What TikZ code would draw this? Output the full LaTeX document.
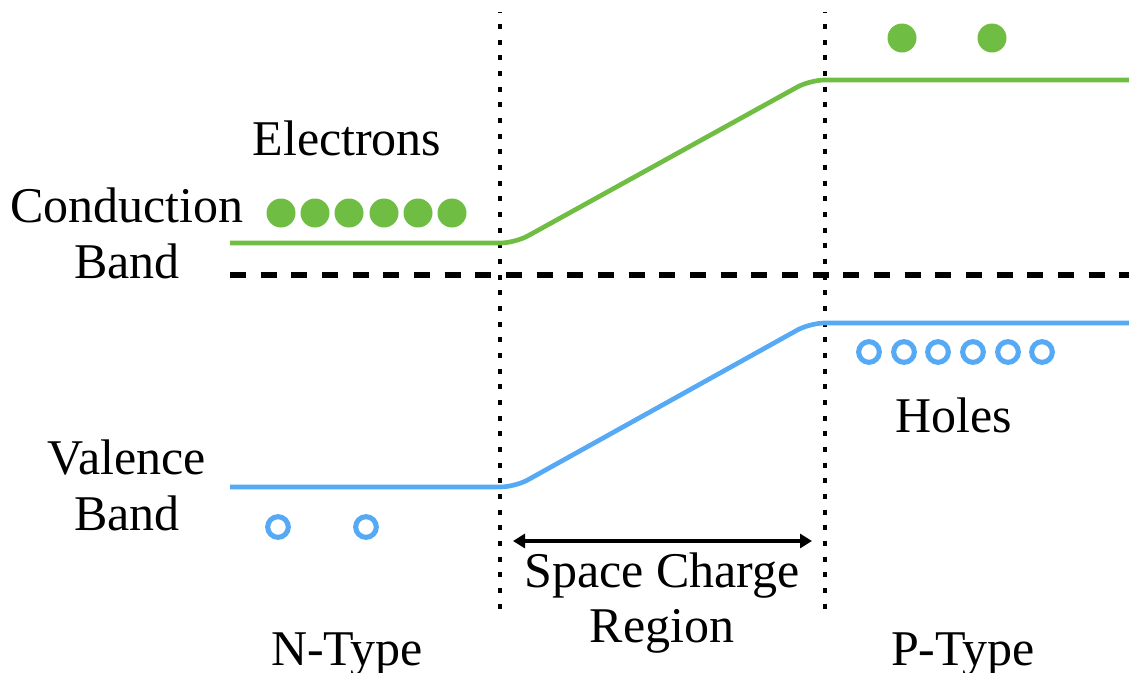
\documentclass[tikz,border=0pt]{standalone}
\usepackage{fontspec}
\setmainfont{Liberation Serif}
\usetikzlibrary{arrows.meta}
\definecolor{bandgreen}{RGB}{112,189,68}
\definecolor{bandblue}{RGB}{86,170,245}
\begin{document}
\begin{tikzpicture}[x=0.75pt,y=-0.75pt,
  lbl/.style={font=\fontsize{37.5}{45}\selectfont, inner sep=0pt, anchor=base},
  edot/.style={circle, fill=bandgreen, draw=none, inner sep=0pt, minimum size=21.75pt},
  hdot/.style={circle, draw=bandblue, line width=3.8pt, inner sep=0pt, minimum size=15.5pt},
  band/.style={line width=3.5pt, rounded corners=11pt},
  junction/.style={line width=3.2pt, dash pattern=on 3.75pt off 8pt, dash phase=-9pt},
  fermi/.style={line width=4.5pt, dash pattern=on 12pt off 11pt},
  span/.style={line width=2.3pt, {Triangle[length=9pt,width=10.5pt]}-{Triangle[length=9pt,width=10.5pt]}}
]
\useasboundingbox (0,0) rectangle (1129,672);

% junction boundaries
\coordinate (jlt) at (500,12);
\coordinate (jlb) at (500,617);
\coordinate (jrt) at (825,12);
\coordinate (jrb) at (825,617);
\draw[junction] (jlt) -- (jlb);
\draw[junction] (jrt) -- (jrb);

% Fermi level
\coordinate (fl) at (230,275);
\coordinate (fr) at (1129,275);
\draw[fermi] (fl) -- (fr);

% conduction band
\coordinate (c0) at (230,243);
\coordinate (c1) at (515,243);
\coordinate (c2) at (810,80);
\coordinate (c3) at (1129,80);
\draw[band, bandgreen] (c0) -- (c1) -- (c2) -- (c3);

% valence band
\coordinate (v0) at (230,487);
\coordinate (v1) at (515,487);
\coordinate (v2) at (810,323);
\coordinate (v3) at (1129,323);
\draw[band, bandblue] (v0) -- (v1) -- (v2) -- (v3);

% electrons
\node[edot] (e1) at (281,213) {};
\node[edot] (e2) at (315,213) {};
\node[edot] (e3) at (349,213) {};
\node[edot] (e4) at (384,213) {};
\node[edot] (e5) at (418,213) {};
\node[edot] (e6) at (452,213) {};
\node[edot] (e7) at (902,38) {};
\node[edot] (e8) at (992,38) {};

% holes
\node[hdot] (h1) at (278,527) {};
\node[hdot] (h2) at (366,527) {};
\node[hdot] (h3) at (869,352) {};
\node[hdot] (h4) at (904,352) {};
\node[hdot] (h5) at (938,352) {};
\node[hdot] (h6) at (973,352) {};
\node[hdot] (h7) at (1008,352) {};
\node[hdot] (h8) at (1042,352) {};

% space charge region arrow
\coordinate (a1) at (513,541);
\coordinate (a2) at (812,541);
\draw[span] (a1) -- (a2);

% labels
\node[lbl] (electrons) at (347,155) {Electrons};
\node[lbl] (cond) at (127,222) {Conduction};
\node[lbl] (cband) at (127,278) {Band};
\node[lbl] (val) at (127,474) {Valence};
\node[lbl] (vband) at (127,530) {Band};
\node[lbl] (holes) at (954,432) {Holes};
\node[lbl] (scr1) at (662,587) {Space Charge};
\node[lbl] (scr2) at (662,642) {Region};
\node[lbl] (ntype) at (347,665) {N-Type};
\node[lbl] (ptype) at (963,665) {P-Type};
\end{tikzpicture}
\end{document}
